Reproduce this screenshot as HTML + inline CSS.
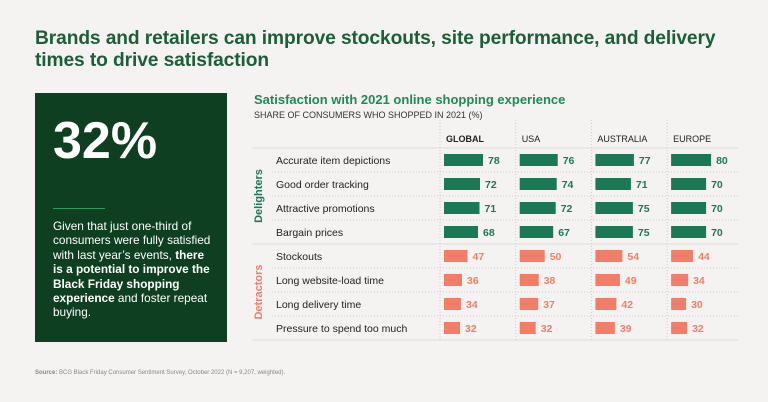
<!DOCTYPE html>
<html><head><meta charset="utf-8">
<style>
body{margin:0;width:768px;height:402px;background:#f4f3f1;font-family:"Liberation Sans",sans-serif;position:relative;overflow:hidden}
.abs{position:absolute}
#title{left:35px;top:28px;font-size:19.2px;font-weight:bold;color:#1b5e38;line-height:22px;letter-spacing:-0.1px}
#box{left:35px;top:93px;width:192px;height:249px;background:#0e3f20}
#big{left:18px;top:18px;font-size:52px;font-weight:bold;color:#fff}
#rule{left:18px;top:115px;width:52px;height:1px;background:#2f9a5a}
#desc{left:18px;top:126px;width:160px;font-size:11.8px;line-height:14.4px;color:#fff}
#src{left:35px;top:370px;font-size:6px;color:#888}
#sub{left:254px;top:92px;font-size:13px;font-weight:bold;color:#1f8a55}
#sub2{left:254px;top:110px;font-size:9px;color:#333}
</style></head><body>
<div id="title" class="abs">Brands and retailers can improve stockouts, site performance, and delivery<br>times to drive satisfaction</div>
<div id="box" class="abs">
<div id="big" class="abs">32%</div>
<div id="rule" class="abs"></div>
<div id="desc" class="abs">Given that just one-third of consumers were fully satisfied with last year’s events, <b>there is a potential to improve the Black Friday shopping experience</b> and foster repeat buying.</div>
</div>
<div id="sub" class="abs">Satisfaction with 2021 online shopping experience</div>
<div id="sub2" class="abs">SHARE OF CONSUMERS WHO SHOPPED IN 2021 (%)</div>
<div id="src" class="abs"><b>Source:</b> BCG Black Friday Consumer Sentiment Survey, October 2022 (N = 9,207, weighted).</div>
<svg id="chart" class="abs" style="left:0;top:0" width="768" height="402"></svg>
<script>
const regions=["GLOBAL","USA","AUSTRALIA","EUROPE"];
const items=["Accurate item depictions","Good order tracking","Attractive promotions","Bargain prices","Stockouts","Long website-load time","Long delivery time","Pressure to spend too much"];
const groups=["Delighters","Delighters","Delighters","Delighters","Detractors","Detractors","Detractors","Detractors"];
const globalVals=[78,72,71,68,47,36,34,32];
const usaVals=[76,74,72,67,50,38,37,32];
const australiaVals=[77,71,75,75,54,49,42,39];
const europeVals=[80,70,70,70,44,34,30,32];
const series=[globalVals,usaVals,australiaVals,europeVals];
const svg=document.getElementById('chart');
const NS="http://www.w3.org/2000/svg";
function mk(t,a){const e=document.createElementNS(NS,t);for(const k in a)e.setAttribute(k,a[k]);svg.appendChild(e);return e;}
const colX=i=>440+i*75.7;
const rowY=j=>160+j*24;
const xs=v=>v*0.5;
regions.forEach((r,i)=>{const t=mk('text',{x:colX(i)+6,y:142,'font-size':9,fill:'#222','font-weight':i==0?'bold':'normal','font-family':'Liberation Sans'});t.textContent=r;


const l=mk('line',{x1:colX(i),x2:colX(i),y1:120,y2:340,stroke:'#ccc','stroke-dasharray':'1,2'});

});
[148,244,340].forEach(y=>{const l=mk('line',{x1:252,x2:738,y1:y,y2:y,stroke:'#ddd','stroke-width':1});

});
items.forEach((it,j)=>{const y=rowY(j);
if(j%4!=3){const d=mk('line',{x1:272,x2:738,y1:y+12,y2:y+12,stroke:'#ccc','stroke-dasharray':'1,2'});

}
const t=mk('text',{x:276,y:y+4,'font-size':10.5,fill:'#222','font-family':'Liberation Sans'});t.textContent=it;


const col=groups[j]=="Delighters"?'#1b7a55':'#f07e68';
series.forEach((s,i)=>{const w=xs(s[j]);
const r=mk('rect',{x:colX(i)+4,y:y-6,width:w,height:12,fill:col});


const v=mk('text',{x:colX(i)+4+w+5,y:y+4,'font-size':10.5,'font-weight':'bold',fill:col,'font-family':'Liberation Sans'});v.textContent=s[j];

});});
[["Delighters",196,'#1b7a55'],["Detractors",292,'#f07e68']].forEach(g=>{const t=mk('text',{x:0,y:0,'font-size':11,'font-weight':'bold',fill:g[2],'text-anchor':'middle','font-family':'Liberation Sans',transform:`translate(262,${g[1]}) rotate(-90)`});t.textContent=g[0];

});
</script>
</body></html>
